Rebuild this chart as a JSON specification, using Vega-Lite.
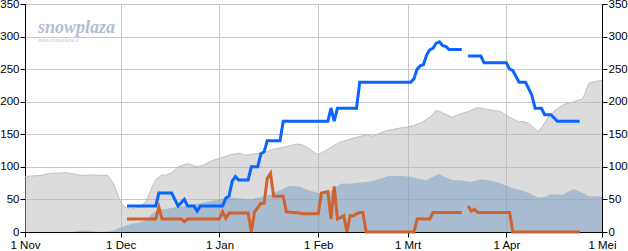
{
  "$schema": "https://vega.github.io/schema/vega-lite/v6.json",
  "width": 577,
  "height": 228,
  "autosize": {"type": "none"},
  "padding": {"left": 25, "top": 4, "right": 26, "bottom": 19},
  "background": "white",
  "title": {
    "text": "snowplaza",
    "subtitle": "www.snowplaza.nl",
    "anchor": "start",
    "frame": "group",
    "orient": "top",
    "offset": -40,
    "dx": 13,
    "dy": 5,
    "font": "Liberation Sans Narrow",
    "fontSize": 18,
    "fontStyle": "italic",
    "fontWeight": "bold",
    "color": "#b0bfd0",
    "subtitleFont": "Liberation Sans",
    "subtitleFontSize": 5,
    "subtitleColor": "#c4ccd8",
    "subtitlePadding": 1
  },
  "config": {
    "view": {"stroke": "#000000", "strokeWidth": 1},
    "axis": {
      "labelFont": "Liberation Sans",
      "labelFontSize": 11.5,
      "labelColor": "#000000",
      "domainColor": "#000000",
      "tickColor": "#000000",
      "tickSize": 5,
      "labelPadding": 1,
      "gridColor": "#c8c8c8",
      "gridWidth": 1,
      "title": null
    }
  },
  "datasets": {
    "maximum": [
      {"date": "2014-11-01", "depth": 85},
      {"date": "2014-11-06", "depth": 87},
      {"date": "2014-11-09", "depth": 90},
      {"date": "2014-11-14", "depth": 91},
      {"date": "2014-11-19", "depth": 86.5},
      {"date": "2014-11-21", "depth": 87.5},
      {"date": "2014-11-27", "depth": 87},
      {"date": "2014-11-28", "depth": 80},
      {"date": "2014-11-29", "depth": 72},
      {"date": "2014-11-30", "depth": 58},
      {"date": "2014-12-01", "depth": 46},
      {"date": "2014-12-02", "depth": 39},
      {"date": "2014-12-04", "depth": 35},
      {"date": "2014-12-07", "depth": 38},
      {"date": "2014-12-09", "depth": 48},
      {"date": "2014-12-11", "depth": 70},
      {"date": "2014-12-12", "depth": 80},
      {"date": "2014-12-14", "depth": 88},
      {"date": "2014-12-15", "depth": 87},
      {"date": "2014-12-17", "depth": 91},
      {"date": "2014-12-19", "depth": 100},
      {"date": "2014-12-22", "depth": 105},
      {"date": "2014-12-25", "depth": 100},
      {"date": "2014-12-27", "depth": 103},
      {"date": "2014-12-30", "depth": 110},
      {"date": "2015-01-01", "depth": 113},
      {"date": "2015-01-04", "depth": 118},
      {"date": "2015-01-07", "depth": 121},
      {"date": "2015-01-09", "depth": 118},
      {"date": "2015-01-12", "depth": 120},
      {"date": "2015-01-15", "depth": 122},
      {"date": "2015-01-18", "depth": 127},
      {"date": "2015-01-22", "depth": 131},
      {"date": "2015-01-25", "depth": 135},
      {"date": "2015-01-27", "depth": 134},
      {"date": "2015-01-29", "depth": 128},
      {"date": "2015-01-31", "depth": 121},
      {"date": "2015-02-01", "depth": 119},
      {"date": "2015-02-03", "depth": 124},
      {"date": "2015-02-06", "depth": 133},
      {"date": "2015-02-08", "depth": 138},
      {"date": "2015-02-10", "depth": 141},
      {"date": "2015-02-12", "depth": 144},
      {"date": "2015-02-16", "depth": 149},
      {"date": "2015-02-18", "depth": 147},
      {"date": "2015-02-22", "depth": 155},
      {"date": "2015-02-26", "depth": 159},
      {"date": "2015-03-02", "depth": 162},
      {"date": "2015-03-05", "depth": 167},
      {"date": "2015-03-08", "depth": 176},
      {"date": "2015-03-10", "depth": 187},
      {"date": "2015-03-12", "depth": 183},
      {"date": "2015-03-15", "depth": 176},
      {"date": "2015-03-17", "depth": 180},
      {"date": "2015-03-20", "depth": 185},
      {"date": "2015-03-23", "depth": 191},
      {"date": "2015-03-26", "depth": 188},
      {"date": "2015-03-30", "depth": 185},
      {"date": "2015-04-02", "depth": 176},
      {"date": "2015-04-05", "depth": 169},
      {"date": "2015-04-06", "depth": 170},
      {"date": "2015-04-08", "depth": 167},
      {"date": "2015-04-11", "depth": 154},
      {"date": "2015-04-12", "depth": 160},
      {"date": "2015-04-14", "depth": 175},
      {"date": "2015-04-16", "depth": 186},
      {"date": "2015-04-19", "depth": 196},
      {"date": "2015-04-21", "depth": 198},
      {"date": "2015-04-24", "depth": 203},
      {"date": "2015-04-25", "depth": 205},
      {"date": "2015-04-27", "depth": 229},
      {"date": "2015-04-30", "depth": 232},
      {"date": "2015-05-01", "depth": 233}
    ],
    "average": [
      {"date": "2014-11-01", "depth": 0},
      {"date": "2014-11-16", "depth": 0},
      {"date": "2014-11-18", "depth": 2},
      {"date": "2014-11-21", "depth": 2},
      {"date": "2014-11-24", "depth": 0},
      {"date": "2014-11-28", "depth": 1},
      {"date": "2014-12-01", "depth": 7},
      {"date": "2014-12-04", "depth": 12},
      {"date": "2014-12-07", "depth": 15},
      {"date": "2014-12-09", "depth": 18},
      {"date": "2014-12-11", "depth": 29},
      {"date": "2014-12-13", "depth": 34},
      {"date": "2014-12-16", "depth": 36},
      {"date": "2014-12-21", "depth": 40},
      {"date": "2014-12-26", "depth": 44},
      {"date": "2014-12-31", "depth": 49},
      {"date": "2015-01-04", "depth": 53},
      {"date": "2015-01-07", "depth": 52},
      {"date": "2015-01-11", "depth": 50},
      {"date": "2015-01-14", "depth": 54},
      {"date": "2015-01-17", "depth": 57},
      {"date": "2015-01-20", "depth": 64},
      {"date": "2015-01-23", "depth": 71},
      {"date": "2015-01-26", "depth": 70},
      {"date": "2015-01-29", "depth": 64},
      {"date": "2015-02-01", "depth": 60},
      {"date": "2015-02-05", "depth": 63},
      {"date": "2015-02-08", "depth": 74},
      {"date": "2015-02-11", "depth": 74},
      {"date": "2015-02-14", "depth": 76},
      {"date": "2015-02-17", "depth": 77},
      {"date": "2015-02-20", "depth": 81},
      {"date": "2015-02-23", "depth": 86},
      {"date": "2015-02-27", "depth": 86},
      {"date": "2015-03-02", "depth": 85},
      {"date": "2015-03-05", "depth": 81},
      {"date": "2015-03-07", "depth": 80},
      {"date": "2015-03-09", "depth": 85},
      {"date": "2015-03-11", "depth": 89},
      {"date": "2015-03-12", "depth": 86},
      {"date": "2015-03-15", "depth": 80},
      {"date": "2015-03-18", "depth": 79},
      {"date": "2015-03-21", "depth": 77},
      {"date": "2015-03-24", "depth": 81},
      {"date": "2015-03-27", "depth": 79},
      {"date": "2015-03-30", "depth": 75},
      {"date": "2015-04-02", "depth": 69},
      {"date": "2015-04-05", "depth": 65},
      {"date": "2015-04-08", "depth": 60},
      {"date": "2015-04-11", "depth": 53},
      {"date": "2015-04-13", "depth": 54},
      {"date": "2015-04-15", "depth": 58},
      {"date": "2015-04-18", "depth": 57},
      {"date": "2015-04-19", "depth": 58},
      {"date": "2015-04-22", "depth": 66},
      {"date": "2015-04-25", "depth": 60},
      {"date": "2015-04-27", "depth": 55},
      {"date": "2015-05-01", "depth": 55}
    ],
    "mountain": [
      {"date": "2014-12-03", "depth": 40},
      {"date": "2014-12-12", "depth": 40},
      {"date": "2014-12-13", "depth": 60},
      {"date": "2014-12-17", "depth": 60},
      {"date": "2014-12-19", "depth": 40},
      {"date": "2014-12-21", "depth": 50},
      {"date": "2014-12-22", "depth": 40},
      {"date": "2014-12-24", "depth": 40},
      {"date": "2014-12-25", "depth": 32},
      {"date": "2014-12-26", "depth": 40},
      {"date": "2015-01-02", "depth": 40},
      {"date": "2015-01-03", "depth": 52},
      {"date": "2015-01-04", "depth": 55},
      {"date": "2015-01-05", "depth": 78},
      {"date": "2015-01-06", "depth": 85},
      {"date": "2015-01-07", "depth": 80},
      {"date": "2015-01-10", "depth": 80},
      {"date": "2015-01-11", "depth": 100},
      {"date": "2015-01-13", "depth": 100},
      {"date": "2015-01-14", "depth": 120},
      {"date": "2015-01-15", "depth": 123},
      {"date": "2015-01-16", "depth": 140},
      {"date": "2015-01-20", "depth": 140},
      {"date": "2015-01-21", "depth": 170},
      {"date": "2015-02-04", "depth": 170},
      {"date": "2015-02-05", "depth": 190},
      {"date": "2015-02-06", "depth": 170},
      {"date": "2015-02-07", "depth": 190},
      {"date": "2015-02-13", "depth": 190},
      {"date": "2015-02-14", "depth": 230},
      {"date": "2015-03-02", "depth": 230},
      {"date": "2015-03-03", "depth": 235},
      {"date": "2015-03-04", "depth": 250},
      {"date": "2015-03-05", "depth": 255},
      {"date": "2015-03-06", "depth": 257},
      {"date": "2015-03-07", "depth": 272},
      {"date": "2015-03-08", "depth": 280},
      {"date": "2015-03-09", "depth": 282},
      {"date": "2015-03-10", "depth": 290},
      {"date": "2015-03-11", "depth": 292},
      {"date": "2015-03-12", "depth": 286},
      {"date": "2015-03-13", "depth": 285},
      {"date": "2015-03-14", "depth": 280},
      {"date": "2015-03-18", "depth": 280},
      {"date": "2015-03-19", "depth": null},
      {"date": "2015-03-20", "depth": 270},
      {"date": "2015-03-24", "depth": 270},
      {"date": "2015-03-25", "depth": 260},
      {"date": "2015-04-01", "depth": 260},
      {"date": "2015-04-02", "depth": 250},
      {"date": "2015-04-03", "depth": 248},
      {"date": "2015-04-05", "depth": 230},
      {"date": "2015-04-07", "depth": 230},
      {"date": "2015-04-08", "depth": 220},
      {"date": "2015-04-09", "depth": 210},
      {"date": "2015-04-10", "depth": 190},
      {"date": "2015-04-12", "depth": 190},
      {"date": "2015-04-13", "depth": 180},
      {"date": "2015-04-15", "depth": 180},
      {"date": "2015-04-17", "depth": 170},
      {"date": "2015-04-24", "depth": 170}
    ],
    "valley": [
      {"date": "2014-12-03", "depth": 20},
      {"date": "2014-12-12", "depth": 20},
      {"date": "2014-12-13", "depth": 38},
      {"date": "2014-12-14", "depth": 20},
      {"date": "2014-12-20", "depth": 20},
      {"date": "2014-12-21", "depth": 16},
      {"date": "2014-12-22", "depth": 20},
      {"date": "2015-01-01", "depth": 20},
      {"date": "2015-01-02", "depth": 31},
      {"date": "2015-01-03", "depth": 21},
      {"date": "2015-01-04", "depth": 29},
      {"date": "2015-01-10", "depth": 29},
      {"date": "2015-01-11", "depth": 0},
      {"date": "2015-01-12", "depth": 31},
      {"date": "2015-01-14", "depth": 44},
      {"date": "2015-01-15", "depth": 44},
      {"date": "2015-01-16", "depth": 82},
      {"date": "2015-01-17", "depth": 90},
      {"date": "2015-01-18", "depth": 55},
      {"date": "2015-01-21", "depth": 55},
      {"date": "2015-01-22", "depth": 31},
      {"date": "2015-01-26", "depth": 29},
      {"date": "2015-01-27", "depth": 28},
      {"date": "2015-02-01", "depth": 28},
      {"date": "2015-02-02", "depth": 60},
      {"date": "2015-02-04", "depth": 62},
      {"date": "2015-02-05", "depth": 20},
      {"date": "2015-02-06", "depth": 70},
      {"date": "2015-02-07", "depth": 20},
      {"date": "2015-02-08", "depth": 22},
      {"date": "2015-02-09", "depth": 25},
      {"date": "2015-02-10", "depth": 0},
      {"date": "2015-02-11", "depth": 25},
      {"date": "2015-02-12", "depth": 25},
      {"date": "2015-02-13", "depth": 28},
      {"date": "2015-02-14", "depth": 30},
      {"date": "2015-02-15", "depth": 30},
      {"date": "2015-02-16", "depth": 0},
      {"date": "2015-03-03", "depth": 0},
      {"date": "2015-03-04", "depth": 20},
      {"date": "2015-03-08", "depth": 20},
      {"date": "2015-03-09", "depth": 30},
      {"date": "2015-03-18", "depth": 30},
      {"date": "2015-03-19", "depth": null},
      {"date": "2015-03-20", "depth": 40},
      {"date": "2015-03-21", "depth": 32},
      {"date": "2015-03-22", "depth": 35},
      {"date": "2015-03-23", "depth": 30},
      {"date": "2015-04-02", "depth": 30},
      {"date": "2015-04-03", "depth": 0},
      {"date": "2015-04-24", "depth": 0}
    ]
  },
  "encoding": {
    "x": {
      "field": "date",
      "type": "temporal",
      "scale": {
        "type": "utc",
        "domain": [
          {"year": 2014, "month": 11, "date": 1, "utc": true},
          {"year": 2015, "month": 5, "date": 1, "utc": true}
        ]
      },
      "axis": {
        "values": [
          {"year": 2014, "month": 11, "date": 1, "utc": true},
          {"year": 2014, "month": 12, "date": 1, "utc": true},
          {"year": 2015, "month": 1, "date": 1, "utc": true},
          {"year": 2015, "month": 2, "date": 1, "utc": true},
          {"year": 2015, "month": 3, "date": 1, "utc": true},
          {"year": 2015, "month": 4, "date": 1, "utc": true},
          {"year": 2015, "month": 5, "date": 1, "utc": true}
        ],
        "labelExpr": "'1 ' + ['Jan','Feb','Mrt','Apr','Mei','Jun','Jul','Aug','Sep','Okt','Nov','Dec'][utcmonth(datum.value)]",
        "grid": true,
        "labelPadding": 2,
        "labelFlush": false,
        "labelOverlap": false
      }
    }
  },
  "layer": [
    {
      "data": {"name": "maximum"},
      "mark": {"type": "area", "color": "#b9b9b9", "opacity": 0.5, "line": {"color": "#c0c0c0", "strokeWidth": 1}},
      "encoding": {
        "y": {
          "field": "depth",
          "type": "quantitative",
          "scale": {"domain": [0, 350], "nice": false},
          "axis": {"orient": "left", "values": [0, 50, 100, 150, 200, 250, 300, 350], "grid": true}
        }
      }
    },
    {
      "data": {"name": "average"},
      "mark": {"type": "area", "color": "#769ac2", "opacity": 0.5},
      "encoding": {
        "y": {
          "field": "depth",
          "type": "quantitative",
          "scale": {"domain": [0, 350], "nice": false},
          "axis": null
        }
      }
    },
    {
      "data": {"name": "valley"},
      "mark": {"type": "line", "color": "#d0622f", "strokeWidth": 3, "invalid": "break-paths-show-domains"},
      "encoding": {
        "y": {
          "field": "depth",
          "type": "quantitative",
          "scale": {"domain": [0, 350], "nice": false},
          "axis": null
        }
      }
    },
    {
      "data": {"name": "mountain"},
      "mark": {"type": "line", "color": "#0a64ff", "strokeWidth": 3, "invalid": "break-paths-show-domains"},
      "encoding": {
        "y": {
          "field": "depth",
          "type": "quantitative",
          "scale": {"domain": [0, 350], "nice": false},
          "axis": {"orient": "right", "values": [0, 50, 100, 150, 200, 250, 300, 350], "grid": false}
        }
      }
    }
  ],
  "resolve": {"scale": {"y": "independent"}, "axis": {"y": "independent"}}
}
